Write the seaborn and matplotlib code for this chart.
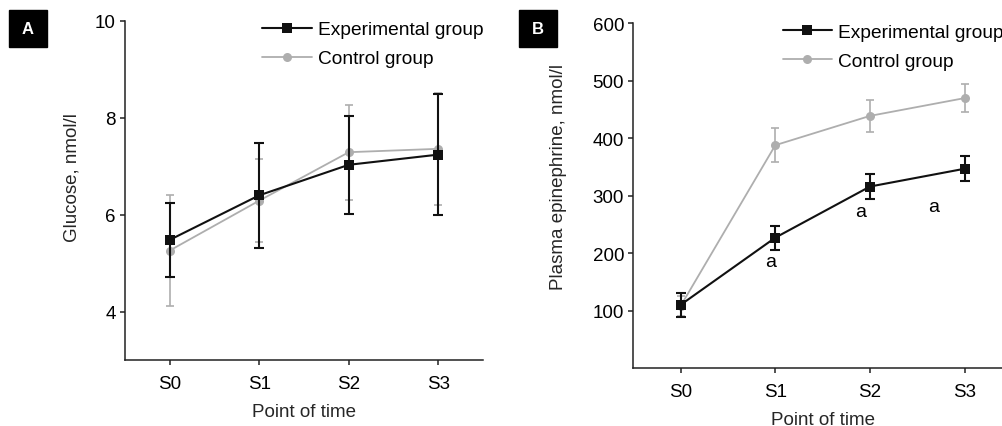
import numpy as np
import pandas as pd
import matplotlib
matplotlib.use('Agg')
import matplotlib.pyplot as plt
import seaborn as sns
from matplotlib.lines import Line2D
from matplotlib.patches import Rectangle

time_points = ['S0', 'S1', 'S2', 'S3']

glucose_exp = [5.48, 6.40, 7.03, 7.24]
glucose_exp_err = [0.77, 1.08, 1.01, 1.25]
glucose_ctrl = [5.26, 6.29, 7.29, 7.36]
glucose_ctrl_err = [1.14, 0.85, 0.98, 1.15]

epi_exp = [110, 227, 316, 347]
epi_exp_err = [21, 21, 22, 22]
epi_ctrl = [108, 388, 439, 470]
epi_ctrl_err = [18, 30, 28, 25]

sig_label = 'a'

sns.set_style('ticks')
plt.rcParams['font.family'] = ['Liberation Sans', 'DejaVu Sans']
plt.rcParams['font.size'] = 13.5
plt.rcParams['text.color'] = 'black'

BLACK = '#111111'
GRAY = '#aeaeae'


def draw_panel(ax, exp, exp_err, ctrl, ctrl_err):
    x = np.arange(len(time_points))
    df = pd.DataFrame({
        'time': np.concatenate([x, x]),
        'value': list(ctrl) + list(exp),
        'group': ['Control group'] * len(x) + ['Experimental group'] * len(x),
    })
    # control first so the experimental line sits on top
    ax.errorbar(x, ctrl, yerr=ctrl_err, fmt='none', ecolor=GRAY,
                elinewidth=1.2, capsize=3, capthick=1.2, zorder=2)
    sns.lineplot(data=df[df['group'] == 'Control group'], x='time', y='value',
                 ax=ax, color=GRAY, linewidth=1.3, marker='o', markersize=6.5,
                 markeredgewidth=0, zorder=3, legend=False)
    ax.errorbar(x, exp, yerr=exp_err, fmt='none', ecolor=BLACK,
                elinewidth=1.5, capsize=3.5, capthick=1.5, zorder=4)
    sns.lineplot(data=df[df['group'] == 'Experimental group'], x='time', y='value',
                 ax=ax, color=BLACK, linewidth=1.5, marker='s', markersize=7,
                 markeredgewidth=0, zorder=5, legend=False)

    ax.set_xticks(x)
    ax.set_xticklabels(time_points)
    ax.set_xlim(-0.5, len(x) - 0.5)
    ax.set_xlabel('Point of time', labelpad=8)
    sns.despine(ax=ax)
    for side in ['left', 'bottom']:
        ax.spines[side].set_linewidth(1.1)
        ax.spines[side].set_color('#222222')
    ax.tick_params(direction='out', length=3.6, width=1.1, color='#222222',
                   labelsize=13.5, labelcolor='black')
    ax.tick_params(axis='x', pad=7.3)
    ax.tick_params(axis='y', pad=3)

    handles = [
        Line2D([], [], color=BLACK, linewidth=1.5, marker='s', markersize=7, markeredgewidth=0),
        Line2D([], [], color=GRAY, linewidth=1.3, marker='o', markersize=6.5, markeredgewidth=0),
    ]
    return handles


fig = plt.figure(figsize=(10.03, 4.27), dpi=100)

ax1 = fig.add_axes([0.1246, 0.1546, 0.357, 0.794])
h = draw_panel(ax1, glucose_exp, glucose_exp_err, glucose_ctrl, glucose_ctrl_err)
ax1.set_ylim(3, 10)
ax1.set_yticks([4, 6, 8, 10])
ax1.set_ylabel('Glucose, nmol/l')
ax1.yaxis.set_label_coords(-0.123, 0.54)
ax1.legend(h, ['Experimental group', 'Control group'], loc='upper left',
           bbox_to_anchor=(0.383, 1.0), frameon=False, fontsize=13.8,
           handlelength=2.6, handletextpad=0.3, labelspacing=0.6,
           borderpad=0, borderaxespad=0)

ax2 = fig.add_axes([0.6314, 0.1358, 0.3776, 0.807])
h = draw_panel(ax2, epi_exp, epi_exp_err, epi_ctrl, epi_ctrl_err)
ax2.set_ylim(0, 600)
ax2.set_yticks([100, 200, 300, 400, 500, 600])
ax2.set_ylabel('Plasma epinephrine, nmol/l')
ax2.yaxis.set_label_coords(-0.175, 0.557)
ax2.legend(h, ['Experimental group', 'Control group'], loc='upper left',
           bbox_to_anchor=(0.394, 1.0), frameon=False, fontsize=13.8,
           handlelength=2.6, handletextpad=0.3, labelspacing=0.6,
           borderpad=0, borderaxespad=0)
for xa, ya in [(0.95, 186), (1.9, 272), (2.67, 281)]:
    ax2.text(xa, ya, sig_label, ha='center', va='center', fontsize=14, color='black')

# panel letters in black boxes
for px, letter in [(9, 'A'), (519, 'B')]:
    fig.patches.append(Rectangle((px / 1003, 1 - 48 / 427), 38 / 1003, 37 / 427,
                                 transform=fig.transFigure, color='black', zorder=10))
    fig.text((px + 19) / 1003, 1 - 30 / 427, letter, ha='center', va='center',
             color='white', fontsize=12, fontweight='bold', zorder=11)

fig.savefig('out.png', dpi=100)
